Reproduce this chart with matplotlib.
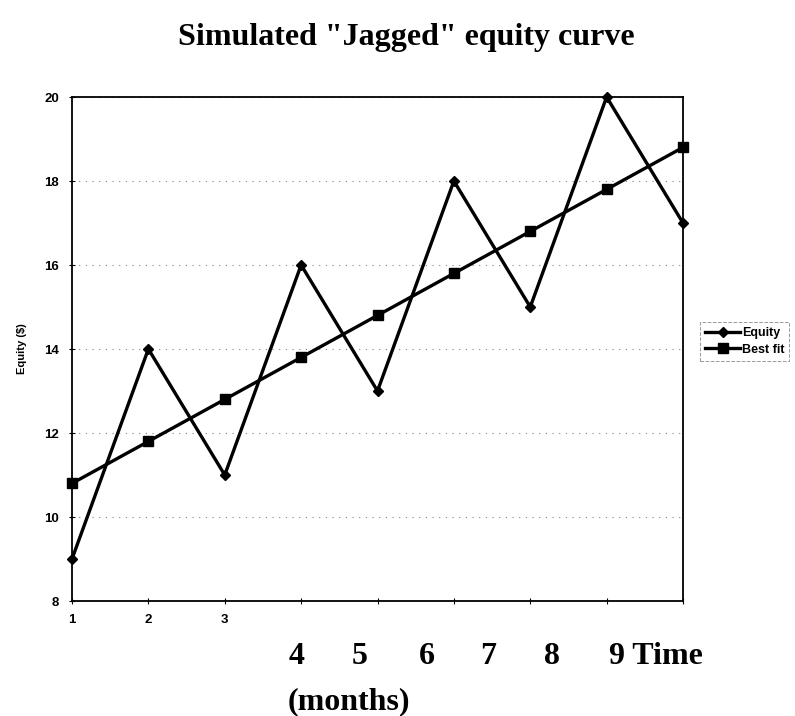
import matplotlib.pyplot as plt

months = [1, 2, 3, 4, 5, 6, 7, 8, 9]
equity = [9, 14, 11, 16, 13, 18, 15, 20, 17]
best_fit = [10.8, 11.8, 12.8, 13.8, 14.8, 15.8, 16.8, 17.8, 18.8]
y_ticks = [8, 10, 12, 14, 16, 18, 20]
x_tick_labels = ['1', '2', '3', '', '', '', '', '', '']
big_labels = ['4', '5', '6', '7', '8', '9 Time']
big_label_x = [297, 360, 427, 488, 552, 656]

sans = ['Liberation Sans', 'DejaVu Sans']
serif = ['Liberation Serif', 'DejaVu Serif']

fig = plt.figure(figsize=(7.95, 7.16), dpi=100)
ax = fig.add_axes([72 / 795, 1 - 601 / 716, (683 - 72) / 795, (601 - 97) / 716])

ax.plot(months, equity, color='black', lw=2.4, marker='D', ms=5.5, label='Equity', clip_on=False)
ax.plot(months, best_fit, color='black', lw=2.4, marker='s', ms=7, label='Best fit', clip_on=False)

ax.set_xlim(1, 9)
ax.set_ylim(8, 20)
ax.set_yticks(y_ticks)
ax.set_xticks(months)
ax.set_xticklabels(x_tick_labels)
ax.tick_params(direction='inout', length=5, width=0.8, labelsize=9.5, pad=7)
for lab in ax.get_xticklabels() + ax.get_yticklabels():
    lab.set_family(sans)
    lab.set_fontweight('bold')
ax.grid(axis='y', linestyle=(0, (1, 5)), color='gray', lw=0.8)
for s in ax.spines.values():
    s.set_linewidth(1.3)

ax.set_ylabel('Equity ($)', family=sans, fontsize=8, fontweight='bold', labelpad=12)

leg = ax.legend(loc='center left', bbox_to_anchor=(1.028, 0.515), frameon=True,
                fancybox=False, prop={'family': sans, 'size': 9, 'weight': 'bold'},
                handlelength=2.8, handletextpad=0.15, borderpad=0.4, labelspacing=0.35,
                borderaxespad=0)
leg.get_frame().set_edgecolor('gray')
leg.get_frame().set_linestyle('--')
leg.get_frame().set_linewidth(0.7)

fig.text(406 / 795, 1 - 38 / 716, 'Simulated "Jagged" equity curve', ha='center', va='center',
         family=serif, fontsize=23, fontweight='bold')
for lab, x in zip(big_labels, big_label_x):
    fig.text(x / 795, 1 - 657 / 716, lab, ha='center', va='center',
             family=serif, fontsize=23, fontweight='bold')
fig.text(349 / 795, 1 - 702 / 716, '(months)', ha='center', va='center',
         family=serif, fontsize=23, fontweight='bold')

fig.savefig('out.png', dpi=100)
